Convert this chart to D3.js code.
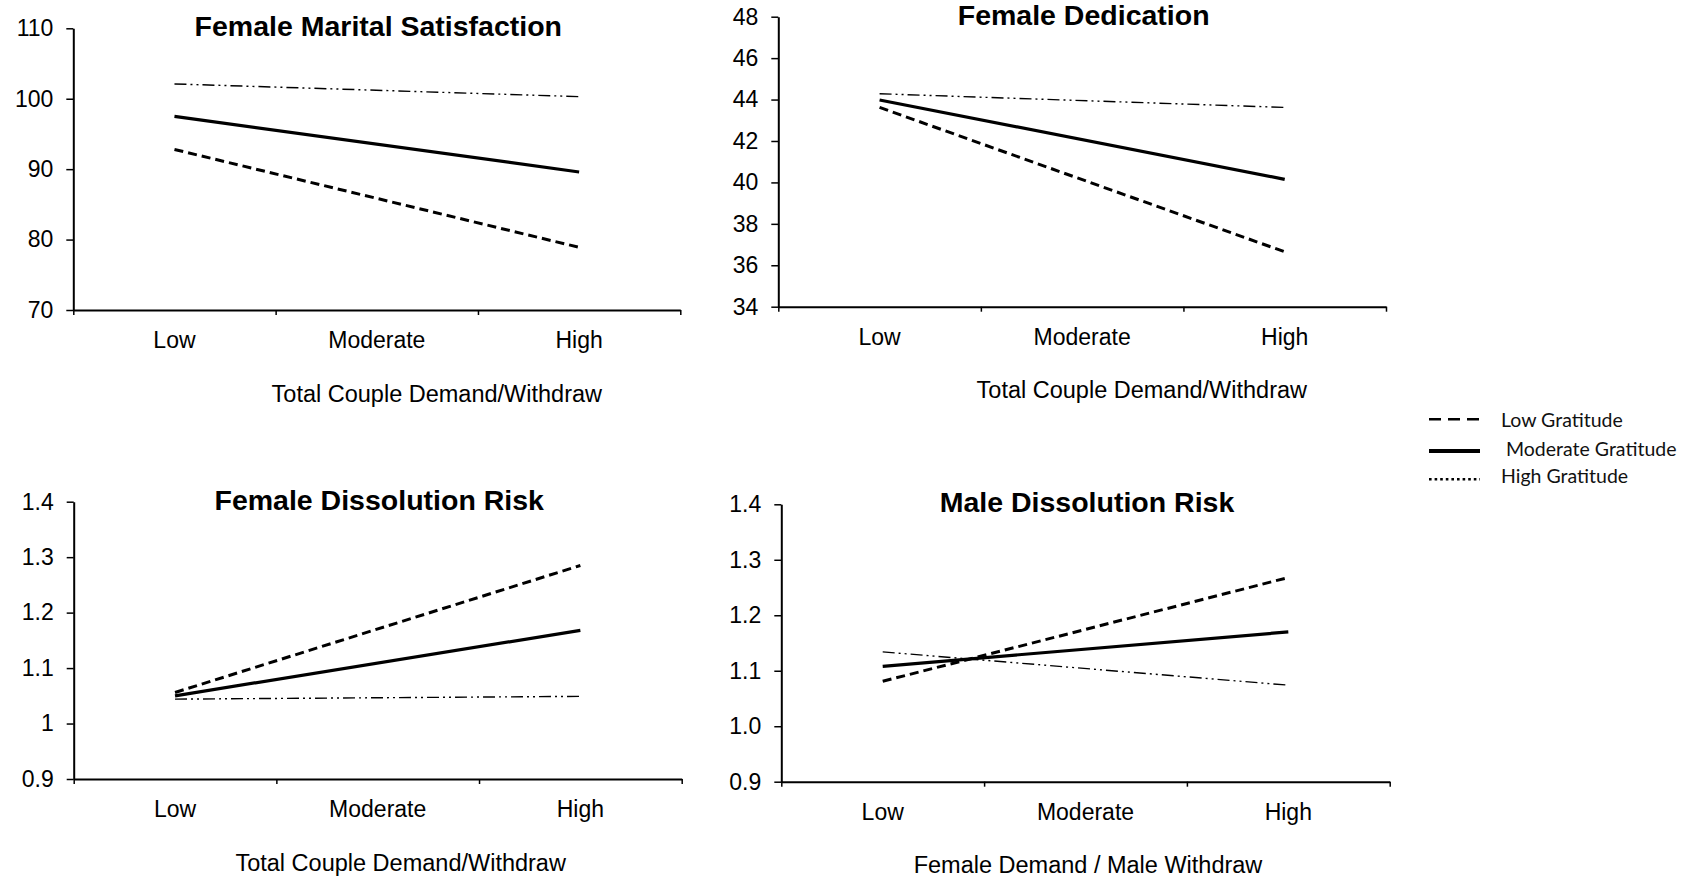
<!DOCTYPE html>
<html>
<head>
<meta charset="utf-8">
<script src="https://cdn.jsdelivr.net/npm/d3@7"></script>
<style>
  body { margin: 0; background: #fff; }
  svg { display: block; font-family: "Liberation Sans", Arial, sans-serif; }
</style>
</head>
<body>
<svg id="canvas" width="1703" height="880"></svg>
<script>
"use strict"

// x categories, lines are only drawn at Low and High
const categories = ["Low", "Moderate", "High"];
const lineCategories = ["Low", "High"];
const seriesNames = ["Low Gratitude", "Moderate Gratitude", "High Gratitude"];

// Female Marital Satisfaction
const satLow = [92.8, 78.9];
const satModerate = [97.5, 89.6];
const satHigh = [102.1, 100.3];
const satTicks = [70, 80, 90, 100, 110];
const satTickLabels = ["70", "80", "90", "100", "110"];

// Female Dedication
const dedLow = [43.62, 36.65];
const dedModerate = [43.98, 40.15];
const dedHigh = [44.28, 43.62];
const dedTicks = [34, 36, 38, 40, 42, 44, 46, 48];
const dedTickLabels = ["34", "36", "38", "40", "42", "44", "46", "48"];

// Female Dissolution Risk
const fdrLow = [1.056, 1.285];
const fdrModerate = [1.050, 1.168];
const fdrHigh = [1.044, 1.049];
const fdrTicks = [0.9, 1.0, 1.1, 1.2, 1.3, 1.4];
const fdrTickLabels = ["0.9", "1", "1.1", "1.2", "1.3", "1.4"];

// Male Dissolution Risk
const mdrLow = [1.081, 1.268];
const mdrModerate = [1.108, 1.170];
const mdrHigh = [1.134, 1.074];
const mdrTicks = [0.9, 1.0, 1.1, 1.2, 1.3, 1.4];
const mdrTickLabels = ["0.9", "1.0", "1.1", "1.2", "1.3", "1.4"];

let drawing = d3.select("#canvas");

// line styles for low / moderate / high gratitude
const lineStyles = [
    { width: 3, dash: "9,5" },
    { width: 3.2, dash: null },
    { width: 1.4, dash: "12,4,2,4,2,4" }
];

function drawPanel(p) {
    let g = drawing.append("g");
    let width = p.right - p.left;

    let x = d3.scaleBand().domain(categories).range([p.left, p.right]);
    let y = d3.scaleLinear().domain([p.ticks[0], p.ticks[p.ticks.length - 1]]).range([p.bottom, p.top]);

    // y axis
    let yAxis = g.append("g")
        .attr("transform", "translate(" + p.left + ",0)")
        .call(d3.axisLeft(y).tickValues(p.ticks).tickSize(7).tickSizeOuter(0).tickPadding(13)
            .tickFormat((d, i) => p.tickLabels[i]));
    yAxis.select(".domain").attr("stroke-width", 2);
    yAxis.selectAll(".tick line").attr("stroke-width", 1.5);
    yAxis.selectAll("text").attr("font-size", 23).attr("fill", "#000");

    // x axis: boundary ticks
    let xb = d3.scaleLinear().domain([0, 3]).range([p.left, p.right]);
    let xAxis = g.append("g")
        .attr("transform", "translate(0," + p.bottom + ")")
        .call(d3.axisBottom(xb).tickValues([0, 1, 2, 3]).tickSize(5).tickSizeOuter(0).tickFormat(""));
    xAxis.select(".domain").attr("stroke-width", 2);
    xAxis.selectAll(".tick line").attr("stroke-width", 1.5);

    // x axis: category labels
    let xLabels = g.append("g")
        .attr("transform", "translate(0," + p.bottom + ")")
        .call(d3.axisBottom(x).tickSize(0));
    xLabels.select(".domain").remove();
    xLabels.selectAll("text")
        .attr("y", 38)
        .attr("dy", null)
        .attr("font-size", 23)
        .attr("fill", "#000");

    // lines
    let line = d3.line()
        .x((d, i) => x(lineCategories[i]) + x.bandwidth() / 2)
        .y(d => y(d));

    p.series.forEach((s, i) => {
        g.append("path")
            .datum(s)
            .attr("d", line)
            .attr("fill", "none")
            .attr("stroke", "#000")
            .attr("stroke-width", lineStyles[i].width)
            .attr("stroke-dasharray", lineStyles[i].dash);
    });

    // title
    g.append("text")
        .attr("x", p.left + width / 2 + 1.5)
        .attr("y", p.top + 8)
        .attr("text-anchor", "middle")
        .attr("font-size", 28.5)
        .attr("font-weight", "bold")
        .text(p.title);

    // x axis title
    g.append("text")
        .attr("x", p.left + p.labelOffset)
        .attr("y", p.bottom + 91.5)
        .attr("text-anchor", "middle")
        .attr("font-size", 23.5)
        .text(p.xTitle);
}

drawPanel({
    left: 73.3, right: 680.3, top: 28.3, bottom: 310,
    ticks: satTicks, tickLabels: satTickLabels,
    series: [satLow, satModerate, satHigh],
    title: "Female Marital Satisfaction",
    xTitle: "Total Couple Demand/Withdraw", labelOffset: 363.5
});

drawPanel({
    left: 778.3, right: 1386, top: 16.7, bottom: 306.7,
    ticks: dedTicks, tickLabels: dedTickLabels,
    series: [dedLow, dedModerate, dedHigh],
    title: "Female Dedication",
    xTitle: "Total Couple Demand/Withdraw", labelOffset: 363.5
});

drawPanel({
    left: 73.7, right: 681.7, top: 501.7, bottom: 779,
    ticks: fdrTicks, tickLabels: fdrTickLabels,
    series: [fdrLow, fdrModerate, fdrHigh],
    title: "Female Dissolution Risk",
    xTitle: "Total Couple Demand/Withdraw", labelOffset: 327
});

drawPanel({
    left: 781.3, right: 1389.7, top: 504.3, bottom: 781.7,
    ticks: mdrTicks, tickLabels: mdrTickLabels,
    series: [mdrLow, mdrModerate, mdrHigh],
    title: "Male Dissolution Risk",
    xTitle: "Female Demand / Male Withdraw", labelOffset: 306.7
});

// legend
const legendStyles = [
    { width: 2.5, dash: "12,7" },
    { width: 4, dash: null },
    { width: 2.5, dash: "2.6,3" }
];
const legendLineY = [419.3, 451, 479.3];
const legendTextY = [427.3, 455.7, 482.7];
const legendTextX = [1501, 1506, 1501];

let legend = drawing.append("g");
seriesNames.forEach((name, i) => {
    legend.append("line")
        .attr("x1", 1429)
        .attr("x2", 1480)
        .attr("y1", legendLineY[i])
        .attr("y2", legendLineY[i])
        .attr("stroke", "#000")
        .attr("stroke-width", legendStyles[i].width)
        .attr("stroke-dasharray", legendStyles[i].dash);
    legend.append("text")
        .attr("x", legendTextX[i])
        .attr("y", legendTextY[i])
        .attr("font-family", "Lato, 'Open Sans', sans-serif")
        .attr("font-size", 19.5)
        .attr("fill", "#111")
        .text(name);
});
</script>
</body>
</html>
